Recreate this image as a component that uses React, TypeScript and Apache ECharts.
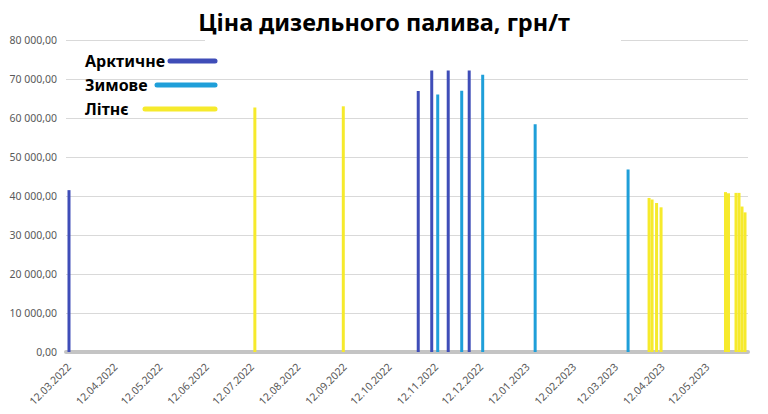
import React, { useEffect, useRef } from "react";
import * as echarts from "echarts";

const titleText = "Ціна дизельного палива, грн/т";
const seriesNames = ["Арктичне", "Зимове", "Літнє"];
const seriesColors = ["#3F4DB8", "#1F9FD9", "#F6EA2C"];

const arcticDates = ["2022-03-12", "2022-10-31", "2022-11-09", "2022-11-20", "2022-12-04"];
const arcticValues = [41500, 66900, 72200, 72200, 72200];

const winterDates = ["2022-11-13", "2022-11-29", "2022-12-13", "2023-01-17", "2023-03-20"];
const winterValues = [66050, 67000, 71100, 58400, 46800];

const summerDates = [
  "2022-07-14", "2022-09-11",
  "2023-04-03", "2023-04-05", "2023-04-08", "2023-04-11",
  "2023-05-24", "2023-05-26", "2023-05-31", "2023-06-02", "2023-06-04", "2023-06-06",
];
const summerValues = [62700, 63000, 39500, 39100, 38200, 37100, 41000, 40700, 40800, 40800, 37300, 35800];

const tickDates = [
  "2022-03-12", "2022-04-12", "2022-05-12", "2022-06-12", "2022-07-12", "2022-08-12",
  "2022-09-12", "2022-10-12", "2022-11-12", "2022-12-12", "2023-01-12", "2023-02-12",
  "2023-03-12", "2023-04-12", "2023-05-12",
];

const axisMinDate = "2022-03-10";
const axisMaxDate = "2023-06-08";

function toTs(s: string): number {
  const [y, m, d] = s.split("-").map(Number);
  return new Date(y, m - 1, d).getTime();
}

function fmtDate(v: number): string {
  const d = new Date(v);
  const dd = String(d.getDate()).padStart(2, "0");
  const mm = String(d.getMonth() + 1).padStart(2, "0");
  return `${dd}.${mm}.${d.getFullYear()}`;
}

function fmtNum(v: number): string {
  const s = Math.round(v).toString().replace(/\B(?=(\d{3})+(?!\d))/g, " ");
  return s + ",00";
}

export default function App() {
  const ref = useRef<HTMLDivElement>(null);
  useEffect(() => {
    if (!ref.current) return;
    const chart = echarts.init(ref.current, undefined, { renderer: "svg" });
    const mk = (dates: string[], vals: number[]) => dates.map((d, i) => [toTs(d), vals[i]]);
    const allData = [mk(arcticDates, arcticValues), mk(winterDates, winterValues), mk(summerDates, summerValues)];
    const legendY = [61, 85, 109];
    const legendLineX1 = [170, 157, 145];
    const graphic: any[] = [
      { type: "rect", shape: { x: 205, y: 34, width: 416, height: 12 }, style: { fill: "#fff" }, z: 5 },
    ];
    seriesNames.forEach((n, i) => {
      graphic.push({
        type: "text",
        x: 85,
        y: legendY[i],
        z: 20,
        style: { text: n, fill: "#000", fontSize: 16, fontWeight: "bold", fontFamily: "Noto Sans", verticalAlign: "middle" },
      });
      graphic.push({
        type: "line",
        z: 20,
        shape: { x1: legendLineX1[i], y1: legendY[i], x2: 215, y2: legendY[i] },
        style: { stroke: seriesColors[i], lineWidth: 5, lineCap: "round" },
      });
    });
    chart.setOption({
      animation: false,
      backgroundColor: "#fff",
      textStyle: { fontFamily: "Noto Sans" },
      title: {
        text: titleText,
        left: "center",
        top: 5,
        padding: 0,
        z: 10,
        textStyle: { fontSize: 23.5, fontWeight: "bold", color: "#000", lineHeight: 34, fontFamily: "Noto Sans" },
      },
      grid: { left: 66, right: 20, top: 40, bottom: 62, containLabel: false },
      xAxis: {
        type: "value",
        min: toTs(axisMinDate),
        max: toTs(axisMaxDate),
        axisLine: { show: true, lineStyle: { color: "#C4C4C4", width: 4 } },
        axisTick: { show: false },
        splitLine: { show: false },
        axisLabel: {
          customValues: tickDates.map(toTs),
          formatter: (v: number) => fmtDate(v),
          rotate: 45,
          fontSize: 10.5,
          color: "#595959",
          margin: 13,
          hideOverlap: false,
          showMinLabel: true,
          showMaxLabel: true,
        },
      },
      yAxis: {
        type: "value",
        min: 0,
        max: 80000,
        interval: 10000,
        axisLine: { show: false },
        axisTick: { show: false },
        splitLine: { lineStyle: { color: "#D9D9D9", width: 1 } },
        axisLabel: { formatter: (v: number) => fmtNum(v), fontSize: 10.5, color: "#595959", margin: 9 },
      },
      series: seriesNames.map((n, i) => ({
        name: n,
        type: "bar",
        data: allData[i],
        barWidth: 3,
        barGap: "-100%",
        itemStyle: { color: seriesColors[i] },
      })),
      graphic,
    });
    return () => chart.dispose();
  }, []);
  return <div ref={ref} style={{ position: "fixed", left: 0, top: 0, width: 768, height: 414 }} />;
}
